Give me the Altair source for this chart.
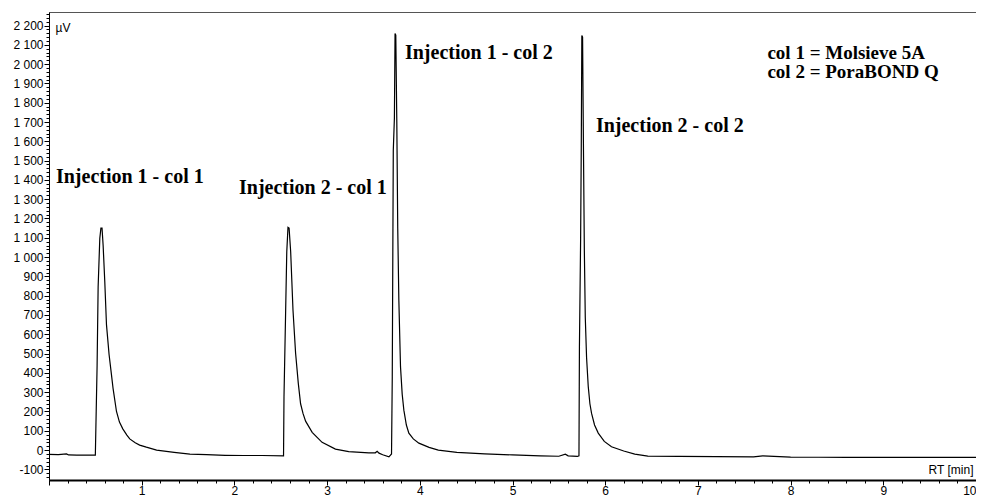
import altair as alt
import pandas as pd

# Retention time (min) and detector signal (µV)
rt = [0.00, 0.10, 0.19, 0.21, 0.30, 0.40, 0.500,
      0.505, 0.519, 0.530, 0.548, 0.560, 0.572, 0.584, 0.602, 0.620, 0.648, 0.674, 0.691,
      0.728, 0.760, 0.796, 0.840, 0.871, 0.930, 0.978, 1.050, 1.161, 1.350, 1.520, 1.700,
      1.900, 2.100, 2.300, 2.530,
      2.535, 2.553, 2.565, 2.578, 2.590, 2.607, 2.632, 2.660, 2.689, 2.714, 2.740, 2.768,
      2.839, 2.946, 3.090, 3.233, 3.450, 3.520, 3.540, 3.560, 3.600, 3.667,
      3.695, 3.703, 3.714, 3.726, 3.733, 3.741, 3.752, 3.762, 3.774, 3.792, 3.810, 3.828,
      3.855, 3.882, 3.930, 3.990, 4.100, 4.200, 4.400, 4.700, 5.000, 5.300, 5.500, 5.570,
      5.600, 5.700,
      5.717, 5.722, 5.735, 5.742, 5.748, 5.756, 5.765, 5.775, 5.785, 5.799, 5.817, 5.835,
      5.853, 5.885, 5.925, 5.990, 6.068, 6.200, 6.319, 6.460, 6.800, 7.200, 7.600, 7.700,
      8.000, 8.300, 8.600, 9.000, 9.500, 10.000]
signal = [-22, -24, -20, -25, -26, -26, -26,
          100, 440, 845, 1097, 1150, 1150, 1060, 870, 650, 495, 390, 320,
          200, 145, 110, 78, 58, 38, 26, 15, 0, -12, -21, -24,
          -27, -28, -28, -30,
          277, 726, 1028, 1154, 1150, 1028, 726, 503, 347, 240, 190, 150,
          92, 40, 5, -8, -14, -14, -6, -16, -24, -35,
          -20, 380, 1553, 1720, 2158, 2150, 1700, 1150, 776, 431, 290, 207,
          130, 88, 58, 36, 14, 0, -12, -20, -25, -30, -32, -21,
          -30, -33,
          -30, 535, 1100, 1580, 2148, 2140, 1590, 1035, 690, 480, 330, 240,
          190, 130, 88, 45, 17, -5, -21, -31, -33, -34, -35, -30,
          -36, -37, -38, -38, -38, -38]

# Annotations (baseline position of each text)
ann_text = ["Injection 1 - col 1", "Injection 2 - col 1", "Injection 1 - col 2",
            "Injection 2 - col 2", "col 1 = Molsieve 5A", "col 2 = PoraBOND Q"]
ann_rt = [0.075, 2.05, 3.84, 5.90, 7.75, 7.75]
ann_sig = [1384, 1325, 2025, 1650, 2026, 1926]
ann_size = [20, 20, 20, 20, 19, 19]

# Axis tick values
x_ticks = [round(i * 0.2, 1) for i in range(0, 51)]
y_ticks = list(range(-140, 2261, 20))

df = pd.DataFrame({"rt": rt, "signal": signal})
ann = pd.DataFrame({"text": ann_text, "rt": ann_rt, "signal": ann_sig, "size": ann_size})

x_scale = alt.Scale(domain=[0, 10], nice=False, zero=False)
y_scale = alt.Scale(domain=[-155, 2270], nice=False, zero=False)

y_label_expr = (
    "datum.value % 100 !== 0 ? '' : (abs(datum.value) >= 1000 ? "
    "floor(datum.value / 1000) + ' ' + substring(toString(1000 + datum.value % 1000), 1) "
    ": toString(datum.value))"
)
x_label_expr = "datum.value > 0 && abs(datum.value - round(datum.value)) < 1e-6 ? toString(round(datum.value)) : ''"

line = alt.Chart(df).mark_line(color="#000000", strokeWidth=1.2, clip=True).encode(
    x=alt.X("rt:Q", scale=x_scale,
            axis=alt.Axis(values=x_ticks, tickCount=len(x_ticks), labelExpr=x_label_expr,
                          labelOverlap=False,
                          tickSize={"condition": {"test": "abs(datum.value - round(datum.value)) < 1e-6", "value": 5}, "value": 3},
                          domainWidth=2, labelPadding=0,
                          title="RT [min]", titleAlign="right", titleBaseline="middle",
                          titleX=924, titleY=-11, titleAngle=0)),
    y=alt.Y("signal:Q", scale=y_scale,
            axis=alt.Axis(values=y_ticks, tickCount=len(y_ticks), labelExpr=y_label_expr,
                          labelOverlap=False,
                          tickSize={"condition": {"test": "datum.value % 100 === 0", "value": 5}, "value": 3},
                          labelPadding=1,
                          title="µV", titleAngle=0, titleAlign="left", titleBaseline="middle",
                          titleX=6, titleY=15)),
)

texts = alt.Chart(ann).mark_text(
    align="left", baseline="alphabetic", font="Liberation Serif", fontWeight="bold",
    color="#000000"
).encode(
    x=alt.X("rt:Q", scale=x_scale),
    y=alt.Y("signal:Q", scale=y_scale),
    text="text:N",
    size=alt.Size("size:Q", scale=None, legend=None),
)

chart = (line + texts).properties(
    width=927, height=468,
    autosize=alt.AutoSizeParams(type="none"),
    padding={"left": 41, "top": 4, "right": 0, "bottom": 17},
    background="#ffffff",
).configure_view(
    stroke="#555555", strokeWidth=1
).configure_axis(
    grid=False, domainColor="#000000", tickColor="#000000", labelColor="#000000",
    labelFont="Liberation Sans", labelFontSize=12,
    titleFont="Liberation Sans", titleFontSize=12, titleFontWeight="normal",
    titleColor="#000000",
)

chart.save("out.html", embed_options={"renderer": "svg", "actions": False})
